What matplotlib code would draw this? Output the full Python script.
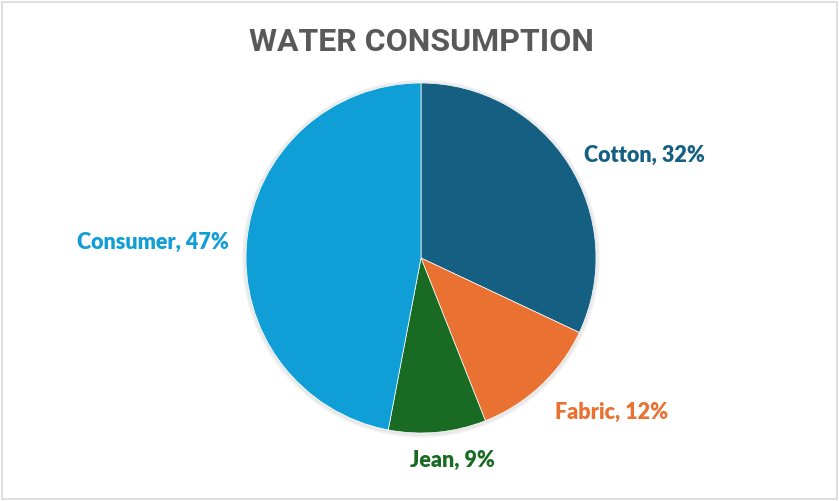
import matplotlib.pyplot as plt
from matplotlib.patches import Circle, Rectangle

# Water consumption share by stage
categories = ["Cotton", "Fabric", "Jean", "Consumer"]
shares = [32, 12, 9, 47]
colors = ["#156082", "#E97132", "#196B24", "#0F9ED5"]

# where each label sits (axes data units, pie radius = 1)
label_pos = [(1.274, 0.594), (1.091, -0.874), (0.177, -1.149), (-1.531, 0.097)]

W, H = 839, 502
fig = plt.figure(figsize=(W / 100, H / 100), dpi=100)
fig.patch.set_facecolor("white")

# thin grey frame around the chart area
fig.add_artist(Rectangle((2 / W, 2 / H), 835 / W, 497 / H, transform=fig.transFigure,
                         fill=False, edgecolor="#d9d9d9", linewidth=1.2))

cx, cy, r = 421, H - 259, 175
ax = fig.add_axes([(cx - r) / W, (cy - r) / H, 2 * r / W, 2 * r / H])

# soft shadow under the pie
for i in range(4):
    ax.add_patch(Circle((0.0, -0.004), 1 + 0.005 * (i + 1), color="black",
                        alpha=0.018, zorder=0, clip_on=False))

wedges, _ = ax.pie(shares, colors=colors, startangle=90, counterclock=False,
                   radius=1, wedgeprops=dict(edgecolor="white", linewidth=0.5))
for w in wedges:
    w.set_zorder(2)

ax.set_xlim(-1, 1)
ax.set_ylim(-1, 1)
ax.set_aspect("equal")
ax.axis("off")

for name, val, col, (x, y) in zip(categories, shares, colors, label_pos):
    ax.text(x, y, f"{name}, {val}%", color=col, fontsize=15.5, fontweight="heavy",
            family=["Lato", "DejaVu Sans"], ha="center", va="center", clip_on=False)

fig.text(cx / W, 1 - 42 / H, "WATER CONSUMPTION", color="#595959", fontsize=23,
         fontweight="bold", family=["Roboto", "DejaVu Sans"], ha="center", va="center")

fig.savefig("out.png", dpi=100, facecolor="white")
